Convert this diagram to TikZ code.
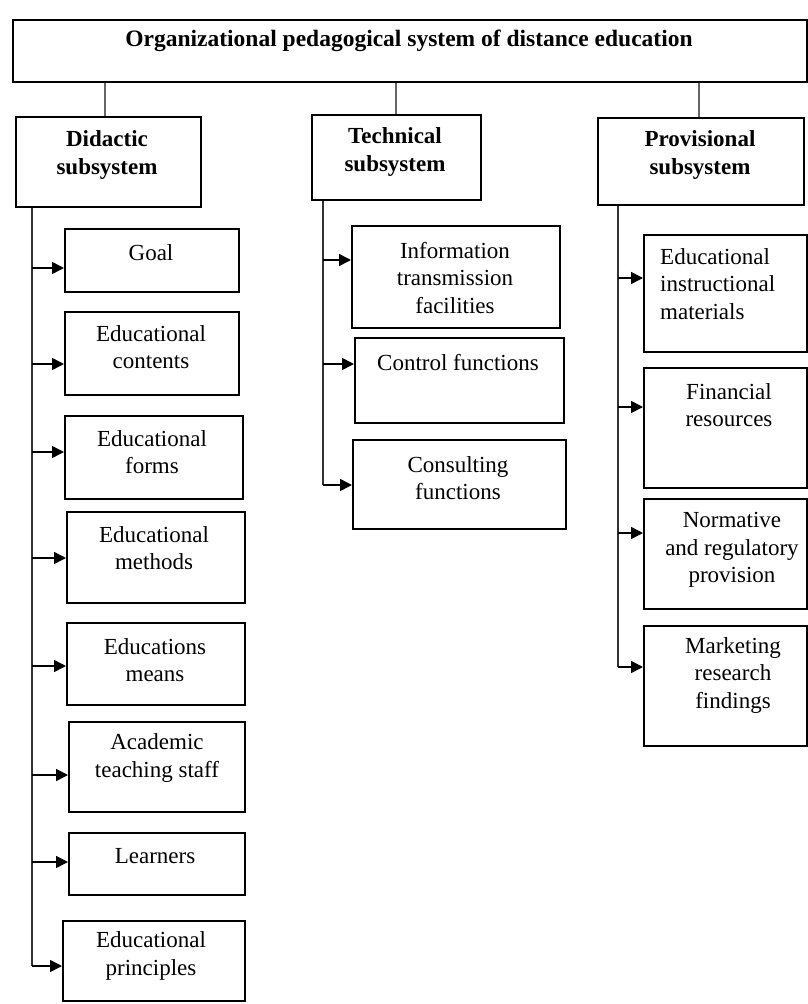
\documentclass[tikz,border=0pt]{standalone}
\usepackage{fontspec}
\setmainfont{Liberation Serif}
\usetikzlibrary{arrows.meta}
\begin{document}
\begin{tikzpicture}[x=1pt,y=-1pt,
 box/.style={draw=black, line width=1.5pt, inner sep=0pt, anchor=north west},
 txt/.style={align=center, font=\fontsize{23}{27.5}\selectfont, inner sep=0pt},
 btxt/.style={align=center, font=\fontsize{23}{28}\selectfont\bfseries, inner sep=0pt},
 link/.style={draw=black!60, line width=2.2pt},
 trunk/.style={draw=black!80, line width=1.6pt},
 arr/.style={draw=black, line width=1.5pt, -{Triangle[length=12pt,width=12pt]}}
]
\useasboundingbox (0,0) rectangle (808,1004);
% top
\node[box, minimum width=794pt, minimum height=62pt] (top) at (12,19) {};
\node[btxt, font=\fontsize{23.5}{28}\selectfont\bfseries] (topT) at (409,41) {Organizational pedagogical system of distance education};
% subsystems
\node[box, minimum width=185pt, minimum height=90pt] (did) at (15,116) {};
\node[btxt] (didT) at (107,155) {Didactic\\subsystem};
\node[box, minimum width=169pt, minimum height=85pt] (tech) at (311,114) {};
\node[btxt] (techT) at (395,152) {Technical\\subsystem};
\node[box, minimum width=206pt, minimum height=87pt] (prov) at (597,117) {};
\node[btxt] (provT) at (700,155) {Provisional\\subsystem};
\draw[link] ([xshift=-3pt]did.north |- top.south) -- ([xshift=-3pt]did.north);
\draw[link] (tech.north |- top.south) -- (tech.north);
\draw[link] ([xshift=-2pt]prov.north |- top.south) -- ([xshift=-2pt]prov.north);
% didactic items
\node[box, minimum width=174pt, minimum height=63pt] (goal) at (64,228) {};
\node[txt] (goalT) at (151,253) {Goal};
\node[box, minimum width=174pt, minimum height=83pt] (cont) at (64,311) {};
\node[txt] (contT) at (151,347) {Educational\\contents};
\node[box, minimum width=178pt, minimum height=83pt] (forms) at (64,415) {};
\node[txt] (formsT) at (152,452) {Educational\\forms};
\node[box, minimum width=178pt, minimum height=91pt] (meth) at (66,511) {};
\node[txt] (methT) at (154,548) {Educational\\methods};
\node[box, minimum width=178pt, minimum height=82pt] (means) at (66,622) {};
\node[txt] (meansT) at (155,660) {Educations\\means};
\node[box, minimum width=176pt, minimum height=90pt] (acad) at (68,721) {};
\node[txt] (acadT) at (157,758) {Academic\\teaching staff};
\node[box, minimum width=176pt, minimum height=62pt] (learn) at (68,832) {};
\node[txt] (learnT) at (155,856) {Learners};
\node[box, minimum width=182pt, minimum height=80pt] (princ) at (62,920) {};
\node[txt] (princT) at (151,956) {Educational\\principles};
\coordinate (dt) at ([xshift=17pt]did.south west);
\draw[trunk] (dt) -- (dt |- 0,966);
\draw[arr] (dt |- 0,268) -- (goal.west |- 0,268);
\draw[arr] (dt |- 0,364) -- (cont.west |- 0,364);
\draw[arr] (dt |- 0,452) -- (forms.west |- 0,452);
\draw[arr] (dt |- 0,558) -- (meth.west |- 0,558);
\draw[arr] (dt |- 0,666) -- (means.west |- 0,666);
\draw[arr] (dt |- 0,775) -- (acad.west |- 0,775);
\draw[arr] (dt |- 0,862) -- (learn.west |- 0,862);
\draw[arr] (dt |- 0,966) -- (princ.west |- 0,966);
% technical items
\node[box, minimum width=208pt, minimum height=102pt] (info) at (351,225) {};
\node[txt] (infoT) at (455,278) {Information\\transmission\\facilities};
\node[box, minimum width=209pt, minimum height=85pt] (ctrl) at (354,337) {};
\node[txt] (ctrlT) at (458,363) {Control functions};
\node[box, minimum width=213pt, minimum height=89pt] (cons) at (352,439) {};
\node[txt] (consT) at (458,478) {Consulting\\functions};
\coordinate (tt) at ([xshift=12pt]tech.south west);
\draw[trunk] (tt) -- (tt |- 0,485);
\draw[arr] (tt |- 0,260) -- (info.west |- 0,260);
\draw[arr] (tt |- 0,364) -- (ctrl.west |- 0,364);
\draw[arr] (tt |- 0,485) -- (cons.west |- 0,485);
% provisional items
\node[box, minimum width=163pt, minimum height=117pt] (edmat) at (643,234) {};
\node[txt, align=left, anchor=west] (edmatT) at (660,284) {Educational\\instructional\\materials};
\node[box, minimum width=163pt, minimum height=120pt] (fin) at (643,367) {};
\node[txt] (finT) at (729,405) {Financial\\resources};
\node[box, minimum width=163pt, minimum height=110pt] (norm) at (643,498) {};
\node[txt] (normT) at (732,550) {Normative\\and regulatory\\provision};
\node[box, minimum width=163pt, minimum height=120pt] (mark) at (643,625) {};
\node[txt] (markT) at (733,675) {Marketing\\research\\findings};
\coordinate (pt) at ([xshift=21pt]prov.south west);
\draw[trunk] (pt) -- (pt |- 0,667);
\draw[arr] (pt |- 0,278) -- (edmat.west |- 0,278);
\draw[arr] (pt |- 0,407) -- (fin.west |- 0,407);
\draw[arr] (pt |- 0,533) -- (norm.west |- 0,533);
\draw[arr] (pt |- 0,667) -- (mark.west |- 0,667);
\end{tikzpicture}
\end{document}
